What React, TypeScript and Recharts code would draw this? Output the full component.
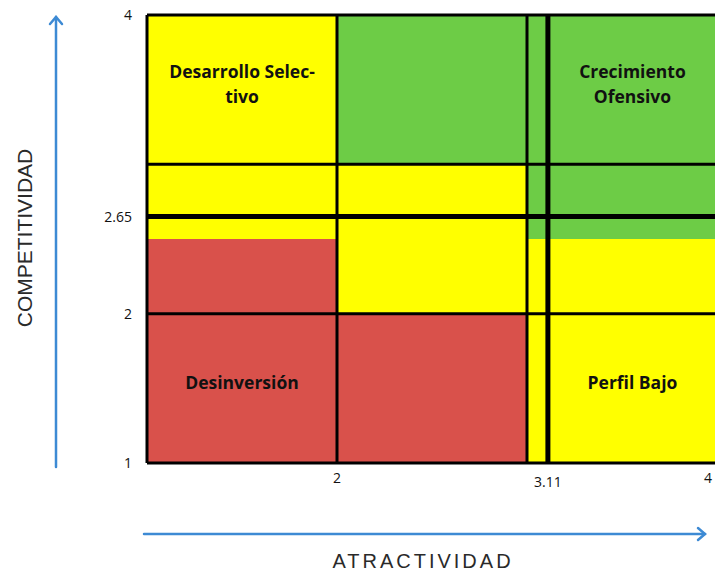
import React from "react";
import {
  ComposedChart,
  XAxis,
  YAxis,
  ReferenceArea,
  ReferenceLine,
} from "recharts";

// axis ticks
const xTicks = [2, 3.11, 4];
const yTicks = [1, 2, 2.65, 4];

// thin grid dividing the matrix in thirds
const gridX = [2, 3];
const gridY = [2, 3, 4];

// the company's position (thick lines)
const posX = 3.11;
const posY = 2.65;

// coloured zones of the matrix
const zoneX1 = [1, 1, 2, 2, 2, 3, 3];
const zoneX2 = [2, 2, 3, 3, 3, 4, 4];
const zoneY1 = [2.5, 1, 3, 2, 1, 2.5, 1];
const zoneY2 = [4, 2.5, 4, 3, 2, 4, 2.5];
const zoneKind = ["medio", "bajo", "alto", "medio", "bajo", "alto", "medio"];

// quadrant names
const quadLabels = [["Desarrollo Selec-", "tivo"], ["Crecimiento", "Ofensivo"], ["Desinversión"], ["Perfil Bajo"]];
const quadX1 = [1, 3.11, 1, 3.11];
const quadX2 = [2, 4, 2, 4];
const quadY1 = [3, 3, 1, 1];
const quadY2 = [4, 4, 2, 2];

const colors: any = { alto: "#6dcc46", medio: "#ffff00", bajo: "#d9514b" };

const QuadLabel = (props: any) => {
  const { viewBox, lines } = props;
  if (!viewBox) return null;
  const cx = viewBox.x + viewBox.width / 2;
  const cy = viewBox.y + viewBox.height / 2 - 6;
  const lh = 25;
  const start = cy - ((lines.length - 1) * lh) / 2;
  return (
    <text
      textAnchor="middle"
      dominantBaseline="central"
      fontFamily="'Open Sans', sans-serif"
      fontWeight={700}
      fontSize={17.5}
      fill="#111"
    >
      {lines.map((l: string, i: number) => (
        <tspan key={i} x={cx} y={start + i * lh}>
          {l}
        </tspan>
      ))}
    </text>
  );
};

// x tick, kept inside the window
const XTick = (props: any) => {
  const { x, y, payload } = props;
  const tx = Math.min(x, 708);
  const dy = payload.value === posX ? 4 : 0;
  return (
    <text
      x={tx}
      y={y + 20 + dy}
      textAnchor="middle"
      fontFamily="'Open Sans', sans-serif"
      fontSize={14}
      fill="#111"
    >
      {payload.value}
    </text>
  );
};

export default function App() {
  const blue = "#3d8ad4";
  const tickStyle = { fontFamily: "'Open Sans', sans-serif", fontSize: 14, fill: "#111" };

  return (
    <div
      style={{
        position: "absolute",
        left: 0,
        top: 0,
        width: 715,
        height: 574,
        overflow: "hidden",
        background: "#fff",
      }}
    >
      <div style={{ position: "absolute", left: 0, top: 0 }}>
        <ComposedChart
          width={730}
          height={574}
          margin={{ top: 15, right: 13, left: 87, bottom: 81 }}
        >
          <XAxis
            type="number"
            dataKey="x"
            domain={[1, 4]}
            ticks={xTicks}
            interval={0}
            height={30}
            tickSize={0}
            tickMargin={0}
            tick={<XTick />}
            axisLine={{ stroke: "#000", strokeWidth: 3 }}
            allowDataOverflow
          />
          <YAxis
            type="number"
            dataKey="y"
            domain={[1, 4]}
            ticks={yTicks}
            interval={0}
            width={60}
            tickSize={0}
            tickMargin={15}
            tick={tickStyle}
            axisLine={{ stroke: "#000", strokeWidth: 3 }}
            allowDataOverflow
          />

          {zoneKind.map((k, i) => (
            <ReferenceArea
              key={"z" + i}
              x1={zoneX1[i]}
              x2={zoneX2[i]}
              y1={zoneY1[i]}
              y2={zoneY2[i]}
              fill={colors[k]}
              fillOpacity={1}
              stroke="none"
            />
          ))}

          {gridX.map((v) => (
            <ReferenceLine key={"gx" + v} x={v} stroke="#000" strokeWidth={3} />
          ))}
          {gridY.map((v) => (
            <ReferenceLine key={"gy" + v} y={v} stroke="#000" strokeWidth={3} />
          ))}

          <ReferenceLine x={posX} stroke="#000" strokeWidth={5} />
          <ReferenceLine y={posY} stroke="#000" strokeWidth={5} />

          {quadLabels.map((lines, i) => (
            <ReferenceArea
              key={"q" + i}
              x1={quadX1[i]}
              x2={quadX2[i]}
              y1={quadY1[i]}
              y2={quadY2[i]}
              fill="none"
              stroke="none"
              label={<QuadLabel lines={lines} />}
            />
          ))}
        </ComposedChart>
      </div>

      <svg
        width={715}
        height={574}
        style={{ position: "absolute", left: 0, top: 0, pointerEvents: "none" }}
      >
        <g stroke={blue} strokeWidth={2.5} fill="none" strokeLinecap="round">
          <line x1={56} y1={467} x2={56} y2={17} />
          <polyline points="50,24 56,17 62,24" />
          <line x1={144} y1={534} x2={705} y2={534} />
          <polyline points="698,528 705,534 698,540" />
        </g>
        <text
          x={24}
          y={238}
          transform="rotate(-90 24 238)"
          textAnchor="middle"
          dominantBaseline="central"
          fontFamily="'Liberation Sans', Arial, sans-serif"
          fontSize={21}
          fill="#2a2a2a"
        >
          COMPETITIVIDAD
        </text>
        <text
          x={423}
          y={561}
          textAnchor="middle"
          dominantBaseline="central"
          fontFamily="'Liberation Sans', Arial, sans-serif"
          fontSize={20}
          letterSpacing={3}
          fill="#2a2a2a"
        >
          ATRACTIVIDAD
        </text>
      </svg>
    </div>
  );
}
